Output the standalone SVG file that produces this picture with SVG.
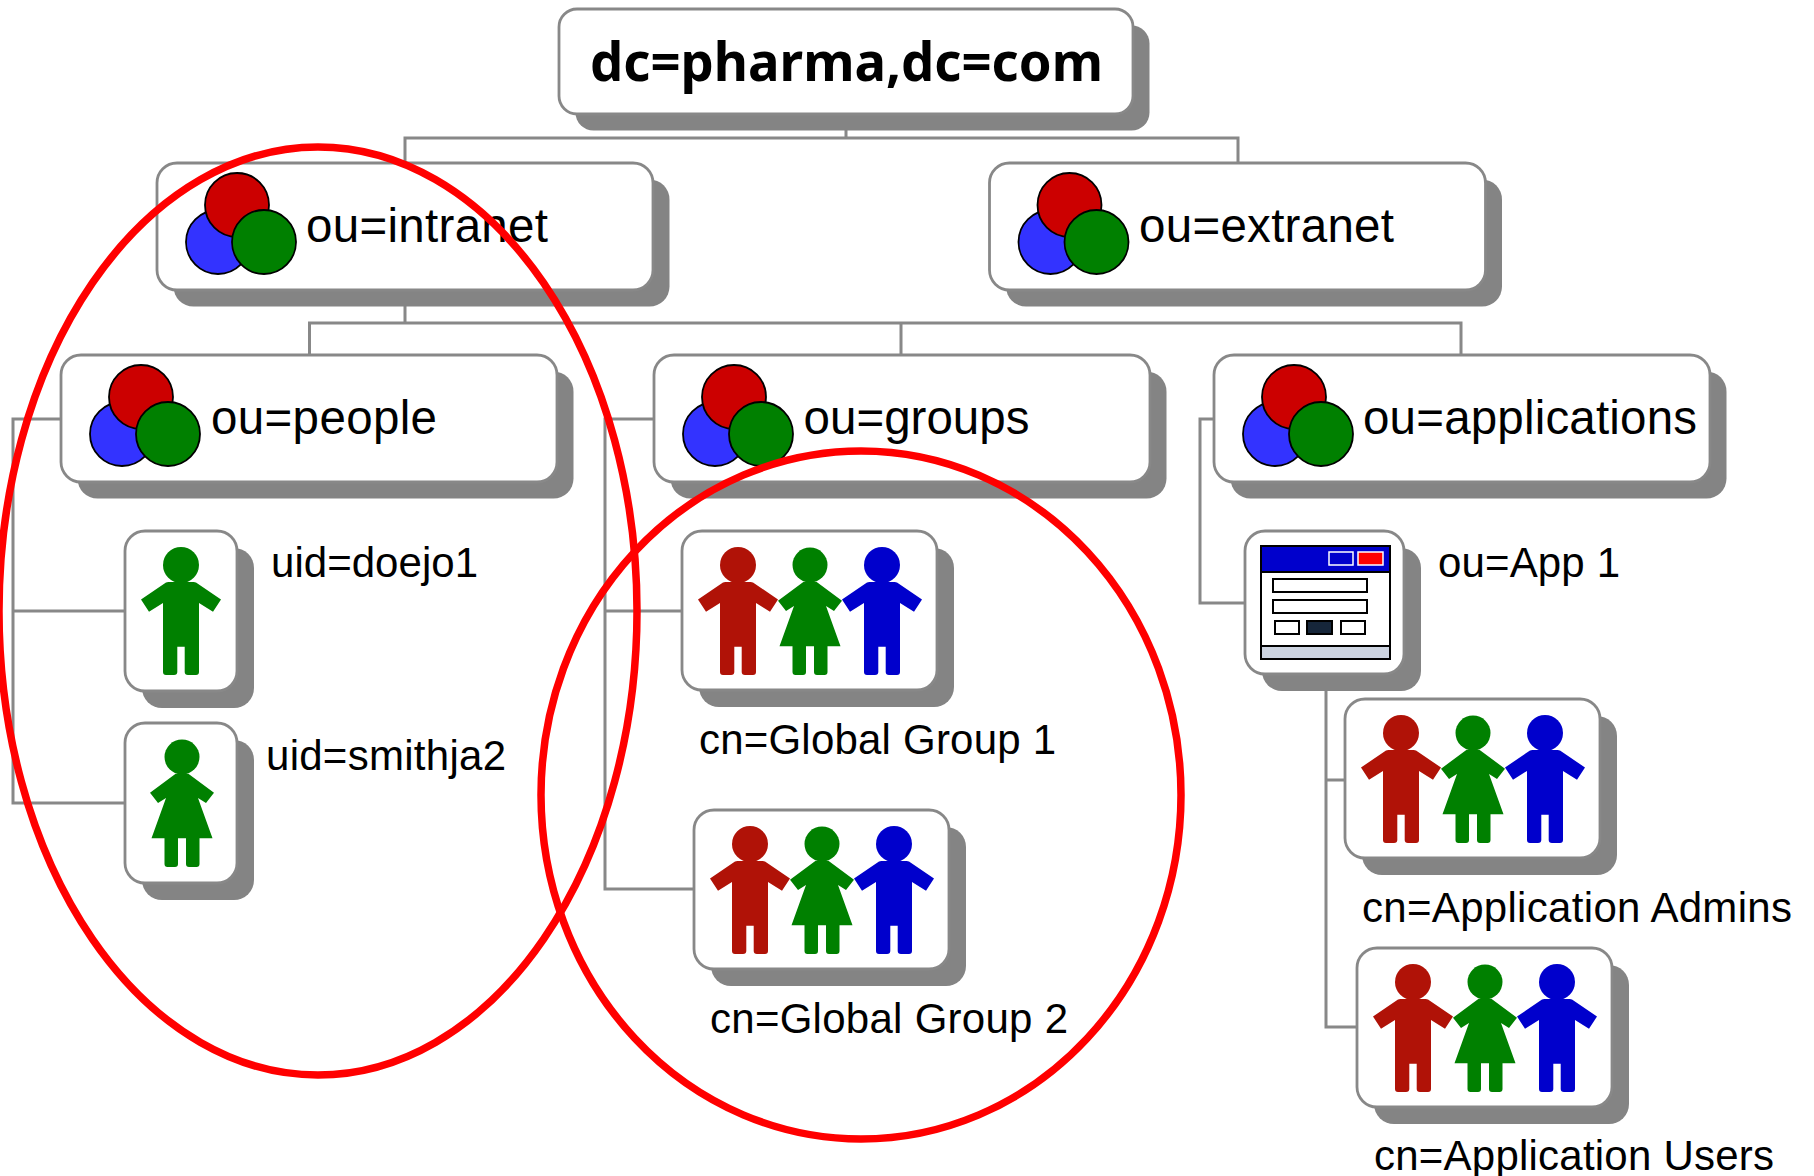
<svg xmlns="http://www.w3.org/2000/svg" xmlns:xlink="http://www.w3.org/1999/xlink" width="1814" height="1176" viewBox="0 0 1814 1176">
<style>
.box{fill:#fff;stroke:#888;stroke-width:2.800}
.sh{fill:#848484}
.c{fill:none;stroke:#888;stroke-width:3}
.t{font-family:"Liberation Sans",Arial,sans-serif;font-size:42px;fill:#000}
.l{font-family:"Liberation Sans",Arial,sans-serif;font-size:47.500px;fill:#000}
.ring{fill:none;stroke:#f00;stroke-width:7.500}
.o{stroke:#000;stroke-width:1.800}
</style>
<defs>
<g id="man"><circle cx="0" cy="0" r="18"/><path d="M-12.7 17L12.7 17L15 17.500L40 34.500L32 46.700L18 38L18 107Q18 110 15 110L7 110Q3.700 110 3.700 107L3.700 81.700L-3.700 81.700L-3.700 107Q-3.700 110 -7 110L-15 110Q-18 110 -18 107L-18 38L-32 46.700L-40 34.500L-15 17.500Z" stroke-linejoin="round"/></g>
<g id="woman"><circle cx="0" cy="0" r="17.500"/><path d="M-6.700 17L6.700 17L32 35.700L24 46L16 41L30.500 81.300L17.500 81.300L17.500 107Q17.500 110 14.500 110L7 110Q4 110 4 107L4 81.300L-4 81.300L-4 107Q-4 110 -7 110L-14.500 110Q-17.500 110 -17.500 107L-17.500 81.300L-30.500 81.300L-16 41L-24 46L-32 35.700Z" stroke-linejoin="round"/></g>
<g id="trio"><use href="#man" x="56" y="34" fill="#b01207"/><use href="#woman" x="128" y="34" fill="#008000"/><use href="#man" x="200" y="34" fill="#0000cc"/></g>
<g id="ousym"><circle class="o" cx="61" cy="79" r="32" fill="#3333ff"/><circle class="o" cx="80" cy="42" r="32" fill="#cc0000"/><circle class="o" cx="107" cy="79" r="32" fill="#008000"/></g>
<g id="ubox"><rect class="sh" x="16.500" y="16.500" width="496" height="127" rx="20"/><rect class="box" width="496" height="127" rx="20"/></g>
<g id="pbox"><rect class="sh" x="17" y="17" width="112" height="160" rx="20"/><rect class="box" width="112" height="160" rx="20"/></g>
<g id="gbox"><rect class="sh" x="17" y="17" width="255" height="159" rx="20"/><rect class="box" width="255" height="159" rx="20"/></g>
</defs>
<rect width="1814" height="1176" fill="#fff"/>
<g id="connectors">
<path class="c" d="M846 114V138M405 163V138H1238V163"/>
<path class="c" d="M405 289V323M309.500 355V323H1461V355M901 323V355"/>
<path class="c" d="M61 419H13V803H125M13 611H125"/>
<path class="c" d="M654 419H605V889H694M605 611H682"/>
<path class="c" d="M1214 419H1200V603H1245"/>
<path class="c" d="M1326 674V1027H1357M1326 780H1345"/>
</g>
<g id="root"><rect class="sh" x="575.500" y="25.500" width="574" height="105" rx="18"/><rect class="box" x="559" y="9" width="574" height="105" rx="18"/><text x="590" y="81" font-family="'Noto Sans',sans-serif" font-weight="700" font-size="54" textLength="513" lengthAdjust="spacingAndGlyphs">dc=pharma,dc=com</text></g>
<g id="intranet"><use href="#ubox" transform="translate(157 163)"/><use href="#ousym" transform="translate(157 163)"/><text class="l" x="306" y="242" textLength="242">ou=intranet</text></g>
<g id="extranet"><use href="#ubox" transform="translate(989.500 163)"/><use href="#ousym" transform="translate(989.500 163)"/><text class="l" x="1139" y="242" textLength="255">ou=extranet</text></g>
<g id="people"><use href="#ubox" transform="translate(61 355)"/><use href="#ousym" transform="translate(61 355)"/><text class="l" x="211" y="434" textLength="226">ou=people</text></g>
<g id="groups"><use href="#ubox" transform="translate(654 355)"/><use href="#ousym" transform="translate(654 355)"/><text class="l" x="803.500" y="434" textLength="226">ou=groups</text></g>
<g id="applications"><use href="#ubox" transform="translate(1214 355)"/><use href="#ousym" transform="translate(1214 355)"/><text class="l" x="1363" y="434" textLength="334">ou=applications</text></g>
<g id="doejo1"><use href="#pbox" transform="translate(125 531)"/><use href="#man" x="181" y="565" fill="#008000"/><text class="t" x="271" y="577" textLength="207">uid=doejo1</text></g>
<g id="smithja2"><use href="#pbox" transform="translate(125 723)"/><use href="#woman" x="182" y="757" fill="#008000"/><text class="t" x="266" y="770" textLength="240">uid=smithja2</text></g>
<g id="group1"><use href="#gbox" transform="translate(682 531)"/><use href="#trio" transform="translate(682 531)"/><text class="t" x="699" y="754" textLength="357">cn=Global Group 1</text></g>
<g id="group2"><use href="#gbox" transform="translate(694 810)"/><use href="#trio" transform="translate(694 810)"/><text class="t" x="710" y="1033" textLength="358">cn=Global Group 2</text></g>
<g id="app1"><rect class="sh" x="1262" y="548" width="159" height="143" rx="20"/><rect class="box" x="1245" y="531" width="159" height="143" rx="20"/>
<g stroke="#000" stroke-width="2"><rect x="1261" y="546" width="129" height="113" fill="#fff"/><rect x="1261" y="546" width="129" height="26" fill="#0000cc"/><rect x="1261" y="646" width="129" height="13" fill="#ccd3e0"/><rect x="1273" y="579" width="94" height="13" fill="#fff"/><rect x="1273" y="600" width="94" height="13" fill="#fff"/><rect x="1275" y="621" width="24" height="13" fill="#fff"/><rect x="1307" y="621" width="25" height="13" fill="#16263a"/><rect x="1341" y="621" width="24" height="13" fill="#fff"/></g>
<rect x="1329" y="552" width="24" height="13" fill="#0000cc" stroke="#fff" stroke-width="1.500"/><rect x="1358" y="552" width="25" height="13" fill="#f00" stroke="#fff" stroke-width="1.500"/>
<text class="t" x="1438" y="577" textLength="182">ou=App 1</text></g>
<g id="admins"><use href="#gbox" transform="translate(1345 699)"/><use href="#trio" transform="translate(1345 699)"/><text class="t" x="1362" y="922" textLength="430">cn=Application Admins</text></g>
<g id="users"><use href="#gbox" transform="translate(1357 948)"/><use href="#trio" transform="translate(1357 948)"/><text class="t" x="1374" y="1170" textLength="400">cn=Application Users</text></g>
<ellipse class="ring" cx="318" cy="611" rx="319" ry="464"/>
<ellipse class="ring" cx="861" cy="795" rx="320" ry="344"/>
</svg>
